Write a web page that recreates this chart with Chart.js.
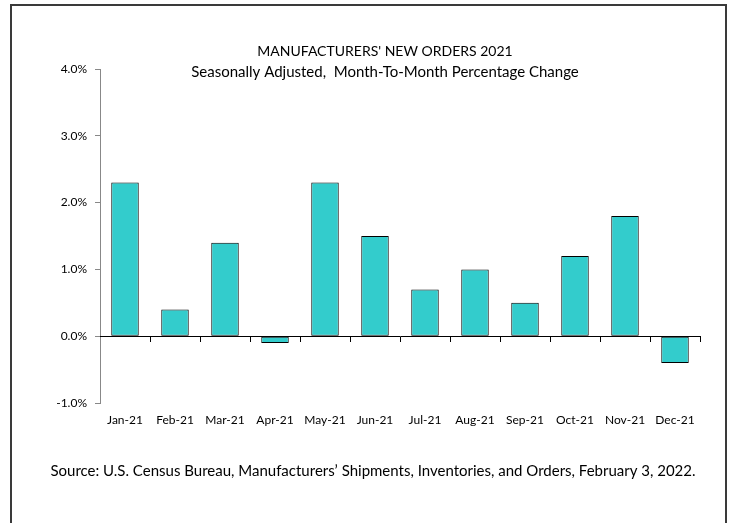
<!DOCTYPE html>
<html>
<head>
<meta charset="utf-8">
<script src="https://cdn.jsdelivr.net/npm/chart.js@4"></script>
<style>
html,body{margin:0;padding:0;background:#fff;}
#wrap{width:731px;height:523px;position:relative;}
</style>
</head>
<body>
<div id="wrap"><canvas id="c" width="731" height="523"></canvas></div>
<script>
const categories = ['Jan-21','Feb-21','Mar-21','Apr-21','May-21','Jun-21','Jul-21','Aug-21','Sep-21','Oct-21','Nov-21','Dec-21'];
const pctChange = [2.3, 0.4, 1.4, -0.1, 2.3, 1.5, 0.7, 1.0, 0.5, 1.2, 1.8, -0.4];
const yTickValues = [-1, 0, 1, 2, 3, 4];
const titleText = "MANUFACTURERS' NEW ORDERS 2021";
const subtitleText = "Seasonally Adjusted,  Month-To-Month Percentage Change";
const sourceText = "Source: U.S. Census Bureau, Manufacturers\u2019 Shipments, Inventories, and Orders, February 3, 2022.";

const FONT = "Lato, 'Open Sans', sans-serif";

const decor = {
  id: 'decor',
  afterDraw(chart) {
    const ctx = chart.ctx;
    ctx.save();
    // outer frame (open at the bottom)
    ctx.strokeStyle = '#3a3a3a';
    ctx.lineWidth = 2;
    ctx.beginPath();
    ctx.moveTo(11, 540);
    ctx.lineTo(11, 5);
    ctx.lineTo(726, 5);
    ctx.lineTo(726, 540);
    ctx.stroke();
    // titles
    ctx.fillStyle = '#000';
    ctx.textAlign = 'center';
    ctx.textBaseline = 'middle';
    ctx.font = '14px ' + FONT;
    ctx.fillText(titleText, 385, 51);
    ctx.font = '15px ' + FONT;
    ctx.fillText(subtitleText, 385, 72);
    ctx.fillText(sourceText, 373, 471);
    ctx.restore();
  }
};

new Chart(document.getElementById('c'), {
  type: 'bar',
  data: {
    labels: categories,
    datasets: [{
      data: pctChange,
      backgroundColor: '#33CCCC',
      borderColor: '#000',
      borderWidth: 1,
      borderSkipped: false,
      barPercentage: 0.55,
      categoryPercentage: 1.0
    }]
  },
  options: {
    responsive: false,
    animation: false,
    devicePixelRatio: 1,
    layout: { padding: { top: 69, bottom: 120, left: 0, right: 31 } },
    plugins: { legend: { display: false }, title: { display: false }, tooltip: { enabled: false } },
    scales: {
      y: {
        min: -1, max: 4,
        afterFit(scale) { scale.width = 100; },
        afterBuildTicks(scale) { scale.ticks = yTickValues.map(v => ({ value: v })); },
        ticks: {
          callback: v => v.toFixed(1) + '%',
          color: '#000',
          padding: 8,
          font: { family: FONT, size: 12 }
        },
        grid: { drawOnChartArea: false, tickLength: 5, color: '#888' },
        border: { color: '#888', width: 1 }
      },
      x: {
        position: { y: 0 },
        offset: true,
        afterFit(scale) { scale.paddingLeft = 0; scale.paddingRight = 0; },
        ticks: {
          color: '#000',
          padding: 72,
          font: { family: FONT, size: 12 },
          maxRotation: 0
        },
        grid: { offset: true, drawOnChartArea: false, tickLength: 5, color: '#000' },
        border: { color: '#000', width: 1 }
      }
    }
  },
  plugins: [decor]
});
</script>
</body>
</html>
